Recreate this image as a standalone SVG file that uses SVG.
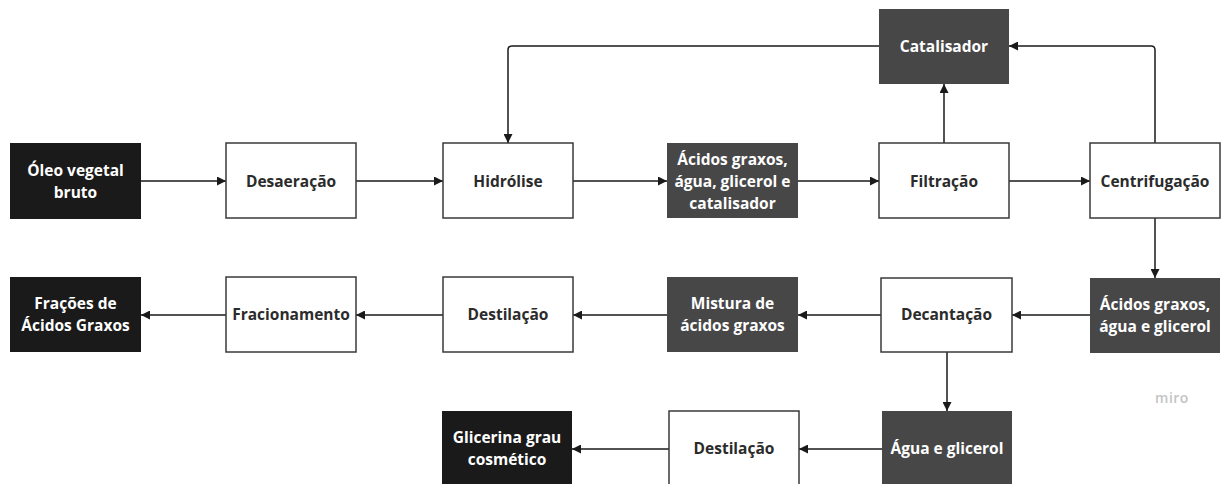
<svg xmlns="http://www.w3.org/2000/svg" width="1222" height="484" viewBox="0 0 1222 484">
<style>
.box{fill:#ffffff;stroke:#3a3a3a;stroke-width:1.5}
.blk{fill:#1a1a1a}
.gry{fill:#474747}
text{font-family:"Open Sans","Noto Sans","Liberation Sans",sans-serif;font-weight:700;font-size:15.5px;text-anchor:middle;dominant-baseline:central}
.dt{fill:#2b2b2b}
.wt{fill:#ffffff}
.c{fill:none;stroke:#1a1a1a;stroke-width:1.5}
</style>
<defs>
<marker id="ah" viewBox="0 0 10 10" refX="10" refY="5" markerWidth="10" markerHeight="9" markerUnits="userSpaceOnUse" orient="auto">
<path d="M0,0 L10,5 L0,10 z" fill="#1a1a1a"/>
</marker>
</defs>
<rect width="1222" height="484" fill="#ffffff"/>
<g id="connectors">
<path class="c" d="M141,181 L226,181" marker-end="url(#ah)"/>
<path class="c" d="M356,181 L443,181" marker-end="url(#ah)"/>
<path class="c" d="M573,181 L667,181" marker-end="url(#ah)"/>
<path class="c" d="M798,181 L879,181" marker-end="url(#ah)"/>
<path class="c" d="M1009,181 L1090,181" marker-end="url(#ah)"/>
<path class="c" d="M944,143 L944,84" marker-end="url(#ah)"/>
<path class="c" d="M1155,143 L1155,50 Q1155,46 1151,46 L1009,46" marker-end="url(#ah)"/>
<path class="c" d="M879,46 L512,46 Q508,46 508,50 L508,143" marker-end="url(#ah)"/>
<path class="c" d="M1155,218 L1155,278" marker-end="url(#ah)"/>
<path class="c" d="M1090,315 L1012,315" marker-end="url(#ah)"/>
<path class="c" d="M881,315 L798,315" marker-end="url(#ah)"/>
<path class="c" d="M667,315 L573,315" marker-end="url(#ah)"/>
<path class="c" d="M443,315 L356,315" marker-end="url(#ah)"/>
<path class="c" d="M226,315 L141,315" marker-end="url(#ah)"/>
<path class="c" d="M947,352 L947,411" marker-end="url(#ah)"/>
<path class="c" d="M882,449 L799,449" marker-end="url(#ah)"/>
<path class="c" d="M669,449 L572,449" marker-end="url(#ah)"/>
</g>
<g id="n1"><rect class="blk" x="10" y="143" width="131" height="76"/><text class="wt" x="75.5" y="170">Óleo vegetal</text><text class="wt" x="75.5" y="192">bruto</text></g>
<g id="n2"><rect class="box" x="226" y="143" width="130" height="75"/><text class="dt" x="291" y="181">Desaeração</text></g>
<g id="n3"><rect class="box" x="443" y="143" width="130" height="75"/><text class="dt" x="508" y="181">Hidrólise</text></g>
<g id="n4"><rect class="gry" x="667" y="143" width="131" height="75"/><text class="wt" x="732.5" y="158.5">Ácidos graxos,</text><text class="wt" x="732.5" y="180.5">água, glicerol e</text><text class="wt" x="732.5" y="202.5">catalisador</text></g>
<g id="n5"><rect class="box" x="879" y="143" width="130" height="75"/><text class="dt" x="944" y="181">Filtração</text></g>
<g id="n6"><rect class="box" x="1090" y="143" width="130" height="75"/><text class="dt" x="1155" y="181">Centrifugação</text></g>
<g id="n7"><rect class="gry" x="879" y="9" width="130" height="75"/><text class="wt" x="944" y="46">Catalisador</text></g>
<g id="n8"><rect class="blk" x="10" y="277" width="131" height="75"/><text class="wt" x="75.5" y="303">Frações de</text><text class="wt" x="75.5" y="325">Ácidos Graxos</text></g>
<g id="n9"><rect class="box" x="226" y="277" width="130" height="75"/><text class="dt" x="291" y="314">Fracionamento</text></g>
<g id="n10"><rect class="box" x="443" y="277" width="130" height="75"/><text class="dt" x="508" y="314">Destilação</text></g>
<g id="n11"><rect class="gry" x="667" y="277" width="131" height="75"/><text class="wt" x="732.5" y="303">Mistura de</text><text class="wt" x="732.5" y="325">ácidos graxos</text></g>
<g id="n12"><rect class="box" x="881" y="278" width="131" height="74"/><text class="dt" x="946.5" y="314">Decantação</text></g>
<g id="n13"><rect class="gry" x="1090" y="278" width="130" height="75"/><text class="wt" x="1155" y="304">Ácidos graxos,</text><text class="wt" x="1155" y="326">água e glicerol</text></g>
<g id="n14"><rect class="blk" x="442" y="411" width="130" height="75"/><text class="wt" x="507" y="437">Glicerina grau</text><text class="wt" x="507" y="459">cosmético</text></g>
<g id="n15"><rect class="box" x="669" y="411" width="130" height="75"/><text class="dt" x="734" y="448">Destilação</text></g>
<g id="n16"><rect class="gry" x="882" y="411" width="130" height="75"/><text class="wt" x="947" y="448">Água e glicerol</text></g>
<text x="1172" y="397" style="font-weight:600;font-size:14px;fill:#c4c4c4;letter-spacing:0.5px">miro</text>
</svg>
